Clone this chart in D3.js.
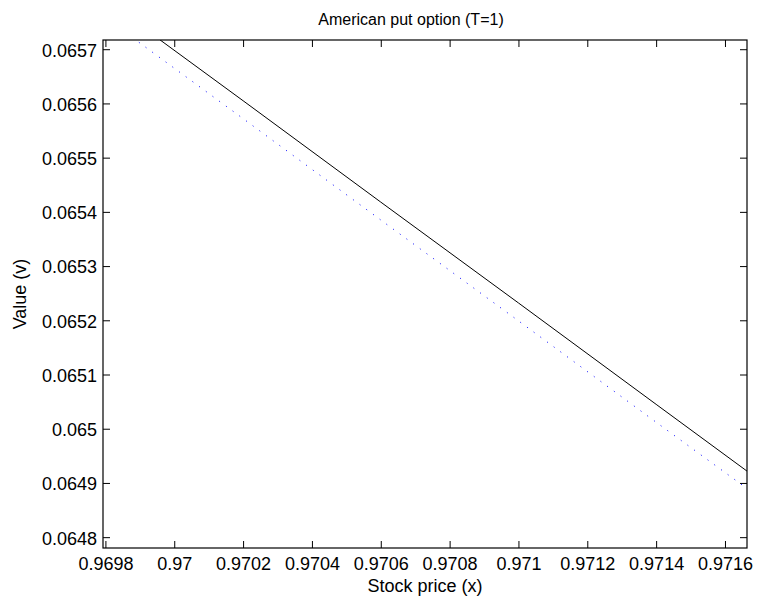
<!DOCTYPE html>
<html>
<head>
<meta charset="utf-8">
<script src="https://cdn.jsdelivr.net/npm/d3@7"></script>
<style>
  body { margin: 0; background: #fff; }
  text { font-family: "Liberation Sans", Arial, Helvetica, sans-serif; fill: #000; }
</style>
</head>
<body>
<div id="chart"></div>
<script>
// stock price grid and the two value curves
const stockPrice = [0.9698, 0.9702, 0.9706, 0.9710, 0.9714, 0.9717];
const valueSolid = [0.065791, 0.065605, 0.065418, 0.065232, 0.065045, 0.064905];
const valueDotted = [0.065758, 0.065572, 0.065385, 0.065199, 0.065012, 0.064873];

const xTicks = [0.9698, 0.9700, 0.9702, 0.9704, 0.9706, 0.9708, 0.9710, 0.9712, 0.9714, 0.9716];
const yTicks = [0.0648, 0.0649, 0.0650, 0.0651, 0.0652, 0.0653, 0.0654, 0.0655, 0.0656, 0.0657];

const svgWidth = 757, svgHeight = 602;
const margin = {top: 40, right: 10, bottom: 54, left: 103};
const w = svgWidth - margin.left - margin.right;
const h = svgHeight - margin.top - margin.bottom;

const svg = d3.select("#chart").append("svg")
    .attr("width", svgWidth)
    .attr("height", svgHeight);

const x = d3.scaleLinear().domain([0.969793, 0.971664]).range([0, w]);
const y = d3.scaleLinear().domain([0.064780, 0.065717]).range([h, 0]);

const g = svg.append("g").attr("transform", `translate(${margin.left},${margin.top})`);

g.append("clipPath").attr("id", "clip")
    .append("rect").attr("width", w).attr("height", h);

const fmt = d3.format(".4~f");
const tickLen = 7;

// bottom + top ticks
g.append("g").attr("transform", `translate(0,${h})`)
    .call(d3.axisBottom(x).tickValues(xTicks).tickFormat(fmt).tickSizeInner(-tickLen).tickSizeOuter(0).tickPadding(9))
    .call(a => a.select(".domain").remove())
    .call(a => a.selectAll("text").style("font-size", "18px"));
g.append("g")
    .call(d3.axisTop(x).tickValues(xTicks).tickFormat("").tickSizeInner(-tickLen).tickSizeOuter(0))
    .call(a => a.select(".domain").remove());

// left + right ticks
g.append("g")
    .call(d3.axisLeft(y).tickValues(yTicks).tickFormat(fmt).tickSizeInner(-tickLen).tickSizeOuter(0).tickPadding(6))
    .call(a => a.select(".domain").remove())
    .call(a => a.selectAll("text").style("font-size", "18px").attr("dy", "0.38em"));
g.append("g").attr("transform", `translate(${w},0)`)
    .call(d3.axisRight(y).tickValues(yTicks).tickFormat("").tickSizeInner(-tickLen).tickSizeOuter(0))
    .call(a => a.select(".domain").remove());

g.selectAll(".tick line").attr("stroke", "#000").attr("stroke-width", 1);

const line = d3.line().x((d, i) => x(stockPrice[i])).y(d => y(d));

g.append("path")
    .datum(valueDotted)
    .attr("clip-path", "url(#clip)")
    .attr("fill", "none")
    .attr("stroke", "#0000ff")
    .attr("stroke-width", 1)
    .attr("stroke-dasharray", "1,7.3")
    .attr("d", line);

g.append("path")
    .datum(valueSolid)
    .attr("clip-path", "url(#clip)")
    .attr("fill", "none")
    .attr("stroke", "#000")
    .attr("stroke-width", 1)
    .attr("d", line);

// box
g.append("rect")
    .attr("width", w).attr("height", h)
    .attr("fill", "none").attr("stroke", "#000").attr("stroke-width", 1.2);

svg.append("text")
    .attr("x", 411).attr("y", 25)
    .attr("text-anchor", "middle").style("font-size", "16px")
    .text("American put option (T=1)");

svg.append("text")
    .attr("x", margin.left + w / 2).attr("y", 592)
    .attr("text-anchor", "middle").style("font-size", "18px")
    .text("Stock price (x)");

svg.append("text")
    .attr("transform", `translate(26,${margin.top + h / 2}) rotate(-90)`)
    .attr("text-anchor", "middle").style("font-size", "18px")
    .text("Value (v)");
</script>
</body>
</html>
